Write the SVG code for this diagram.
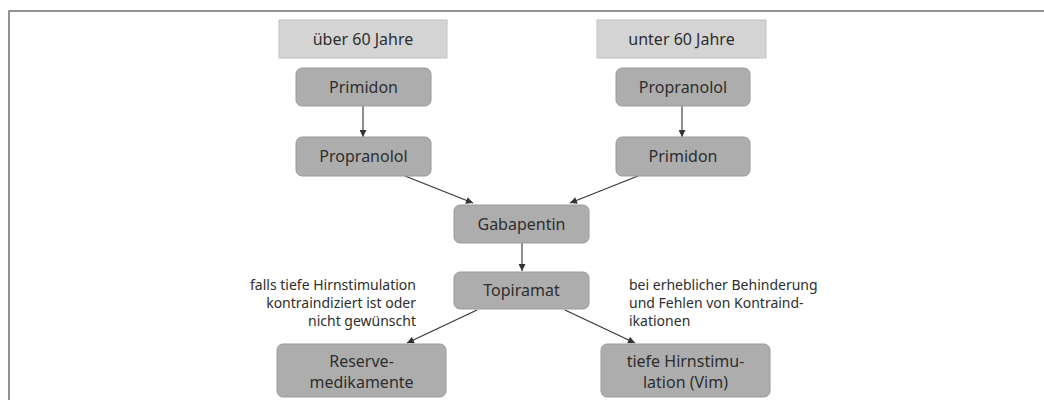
<svg xmlns="http://www.w3.org/2000/svg" width="1044" height="400" viewBox="0 0 1044 400">
<defs>
<style>
.hdr{fill:#d4d4d4;stroke:#c2c2c2;stroke-width:1}
.node{fill:#adadad;stroke:#9a9a9a;stroke-width:1}
.t{font-family:"Noto Sans","Open Sans",sans-serif;font-size:16px;fill:#2e2e2e;text-anchor:middle}
.a{font-family:"Noto Sans","Open Sans",sans-serif;font-size:14px;fill:#2e2e2e}
.c{stroke:#333;stroke-width:1.1;fill:none;marker-end:url(#ah)}
</style>
<marker id="ah" viewBox="0 0 10 10" refX="10" refY="5" markerWidth="8" markerHeight="7" markerUnits="userSpaceOnUse" orient="auto">
<path d="M0,0 L10,5 L0,10 z" fill="#333"/>
</marker>
</defs>
<rect width="1044" height="400" fill="#fff"/>
<g id="frame" fill="none" stroke="#6f6f6f" stroke-width="1.5">
<path d="M9,400 V11 H1044"/>
</g>
<g id="connectors">
<line class="c" x1="363" y1="106" x2="363" y2="137"/>
<line class="c" x1="682" y1="106" x2="682" y2="137"/>
<line class="c" x1="405" y1="176" x2="473" y2="203"/>
<line class="c" x1="638" y1="176" x2="570" y2="203"/>
<line class="c" x1="522" y1="243" x2="522" y2="271"/>
<line class="c" x1="477" y1="310" x2="407" y2="343"/>
<line class="c" x1="565" y1="310" x2="635" y2="343"/>
</g>
<g id="hdr-left"><rect class="hdr" x="279" y="20" width="168" height="38"/><text class="t" x="363" y="44.5">über 60 Jahre</text></g>
<g id="hdr-right"><rect class="hdr" x="597" y="20" width="169" height="38"/><text class="t" x="681.5" y="44.5">unter 60 Jahre</text></g>
<g id="primidon-left"><rect class="node" x="296" y="68" width="135" height="38" rx="6"/><text class="t" x="363.5" y="92.5">Primidon</text></g>
<g id="propranolol-left"><rect class="node" x="296" y="137" width="135" height="39" rx="6"/><text class="t" x="363.5" y="162">Propranolol</text></g>
<g id="propranolol-right"><rect class="node" x="616" y="68" width="134" height="38" rx="6"/><text class="t" x="683" y="92.5">Propranolol</text></g>
<g id="primidon-right"><rect class="node" x="616" y="137" width="134" height="39" rx="6"/><text class="t" x="683" y="162">Primidon</text></g>
<g id="gabapentin"><rect class="node" x="454" y="205" width="135" height="38" rx="6"/><text class="t" x="521.5" y="229.5">Gabapentin</text></g>
<g id="topiramat"><rect class="node" x="454" y="272" width="135" height="37" rx="6"/><text class="t" x="521.5" y="296">Topiramat</text></g>
<g id="reserve"><rect class="node" x="277" y="344" width="169" height="53" rx="6"/><text class="t" x="361.5" y="367">Reserve-</text><text class="t" x="361.5" y="387.5">medikamente</text></g>
<g id="dbs"><rect class="node" x="601" y="344" width="169" height="53" rx="6"/><text class="t" x="685.5" y="367">tiefe Hirnstimu-</text><text class="t" x="685.5" y="387.5">lation (Vim)</text></g>
<g id="label-left" class="a" text-anchor="end">
<text x="416" y="290">falls tiefe Hirnstimulation</text>
<text x="416" y="308">kontraindiziert ist oder</text>
<text x="416" y="326">nicht gewünscht</text>
</g>
<g id="label-right" class="a">
<text x="629" y="290">bei erheblicher Behinderung</text>
<text x="629" y="308">und Fehlen von Kontraind-</text>
<text x="629" y="326">ikationen</text>
</g>
</svg>
